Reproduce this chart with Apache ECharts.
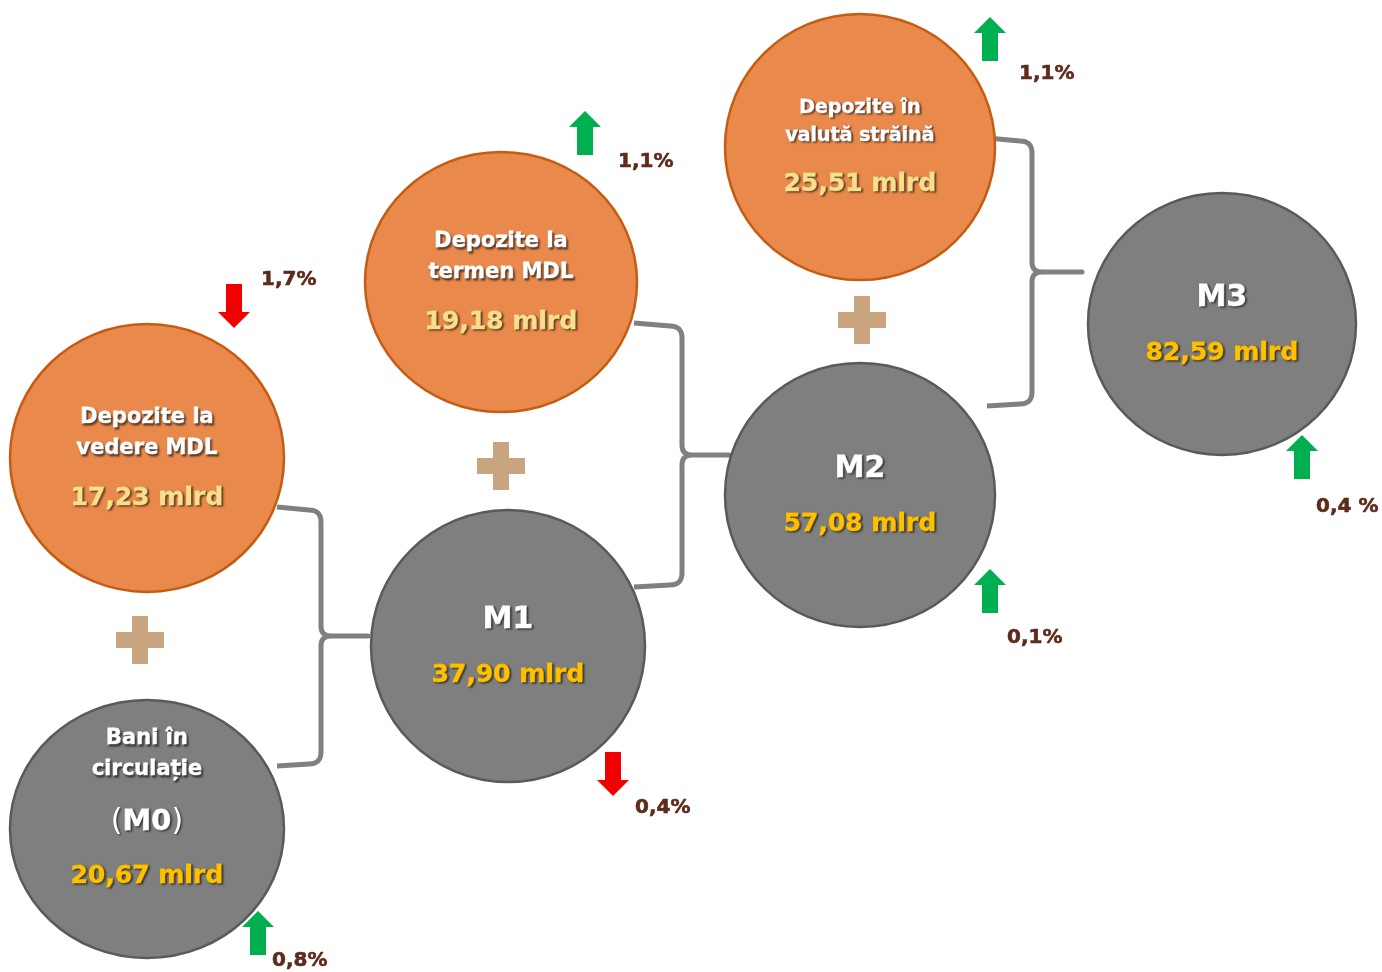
<!DOCTYPE html>
<html><head><meta charset="utf-8">
<script src="https://cdn.jsdelivr.net/npm/echarts@6/dist/echarts.min.js"></script>
<style>html,body{margin:0;padding:0;background:#fff}#c{width:1382px;height:972px}</style>
</head><body><div id="c"></div>
<script>
// ---------- DATA ----------
const nodeLabels = [
  ['Depozite la', 'vedere MDL'],
  ['Bani în', 'circulație', '(M0)'],
  ['Depozite la', 'termen MDL'],
  ['M1'],
  ['Depozite în', 'valută străină'],
  ['M2'],
  ['M3']
];
const nodeKinds = ['component', 'aggregate', 'component', 'aggregate', 'component', 'aggregate', 'aggregate'];
const amounts = [17.23, 20.67, 19.18, 37.90, 25.51, 57.08, 82.59];      // mlrd
const changes = [-1.7, 0.8, 1.1, -0.4, 1.1, 0.1, 0.4];                  // % change
const changeLabels = ['1,7%', '0,8%', '1,1%', '0,4%', '1,1%', '0,1%', '0,4 %'];
const amountUnit = 'mlrd';

// ---------- LAYOUT (positions / sizes, separate from data) ----------
const nodeCenters = [[147, 458], [147, 829], [501, 282], [508, 646], [860, 147], [860, 495], [1222, 324]];
const nodeRadii = [[137, 134], [137, 129], [136, 130], [137, 136], [135, 133], [135, 132], [134, 131]];
const textOffsets = [[-40, -9, 40], [-90, -59, -7, 47], [-40, -9, 40], [-26, 29], [-39, -11, 37], [-26, 29], [-26, 29]];
const titleFontSizes = [21, 21, 21, 30, 19, 30, 30];
const arrowCenters = [[234, 306], [258, 933], [585, 133], [613, 774], [990, 39], [990, 591], [1302, 457]];
const pctAnchors = [[261, 280], [272, 961], [618, 162], [635, 808], [1019, 74], [1007, 638], [1316, 507]];
const plusCenters = [[140, 640], [501, 466], [862, 320]];
// bracket: [armX, spineX, tipX, topY, midY, bottomY]
const brackets = [[277, 321, 368, 510, 636, 764], [634, 682, 729, 326, 455, 585], [987, 1032, 1082, 141, 272, 404]];

// ---------- HELPERS ----------
const FONT = '"DejaVu Sans", Verdana, sans-serif';
const fmtAmount = v => v.toFixed(2).replace('.', ',') + ' ' + amountUnit;
const SHADOW = {textShadowColor: 'rgba(0,0,0,0.55)', textShadowBlur: 2, textShadowOffsetX: 1.5, textShadowOffsetY: 1.5};

function textEl(x, y, text, fill, size, extra) {
  return {
    type: 'text', x: x, y: y, z2: 10,
    style: Object.assign({
      text: text, fill: fill, stroke: fill, lineWidth: 0.8,
      font: 'bold ' + size + 'px ' + FONT,
      align: 'center', verticalAlign: 'middle',
      textAlign: 'center', textVerticalAlign: 'middle'
    }, SHADOW, extra || {})
  };
}

function renderNode(params, api) {
  const i = api.value(2);
  const p = api.coord([api.value(0), api.value(1)]);
  const r = nodeRadii[i];
  const grey = nodeKinds[i] === 'aggregate';
  const children = [{
    type: 'ellipse',
    shape: {cx: p[0], cy: p[1], rx: r[0], ry: r[1]},
    style: {fill: grey ? '#7F7F7F' : '#E98A4C', stroke: grey ? '#5A5A5A' : '#C65B12', lineWidth: 2.5}
  }];
  const labels = nodeLabels[i];
  const offs = textOffsets[i];
  labels.forEach((t, k) => {
    const y = p[1] + offs[k];
    if (/^\(M\d\)$/.test(t)) {
      const inner = t.slice(1, -1);
      children.push({
        type: 'text', x: p[0], y: y, z2: 10,
        style: {
          text: '{p|(}{b|' + inner + '}{p|)}',
          align: 'center', verticalAlign: 'middle', textAlign: 'center', textVerticalAlign: 'middle',
          rich: {
            p: Object.assign({fill: '#FFFFFF', fontSize: 30, fontWeight: 'normal', fontFamily: FONT}, SHADOW),
            b: Object.assign({fill: '#FFFFFF', stroke: '#FFFFFF', lineWidth: 0.8, fontSize: 29, fontWeight: 'bold', fontFamily: FONT}, SHADOW)
          }
        }
      });
    } else {
      const size = /^M\d$/.test(t) ? 30 : titleFontSizes[i];
      children.push(textEl(p[0], y, t, '#FFFFFF', size));
    }
  });
  children.push(textEl(p[0], p[1] + offs[offs.length - 1], fmtAmount(amounts[i]), grey ? '#FFC000' : '#F9DE8C', 25));
  return {type: 'group', children: children};
}

function renderChange(params, api) {
  const i = api.value(2);
  const p = api.coord([api.value(0), api.value(1)]);
  const up = changes[i] >= 0;
  const s = up ? 1 : -1;
  const w = 16, hh = 22, head = 16, shaft = 8;
  const pts = [[0, -hh], [w, -hh + head], [shaft, -hh + head], [shaft, hh], [-shaft, hh], [-shaft, -hh + head], [-w, -hh + head]]
    .map(q => [p[0] + q[0], p[1] + s * q[1]]);
  const a = api.coord(pctAnchors[i]);
  return {type: 'group', children: [
    {type: 'polygon', shape: {points: pts}, style: {fill: up ? '#00B050' : '#F00000'}},
    {type: 'text', x: a[0], y: a[1], style: {text: changeLabels[i], fill: '#5E2A1C', stroke: '#5E2A1C', lineWidth: 0.6,
      font: 'bold 20px ' + FONT,
      align: 'left', verticalAlign: 'middle', textAlign: 'left', textVerticalAlign: 'middle'}}
  ]};
}

function quad(out, p0, c, p1, n) {
  for (let k = 1; k <= n; k++) {
    const t = k / n, u = 1 - t;
    out.push([u * u * p0[0] + 2 * u * t * c[0] + t * t * p1[0], u * u * p0[1] + 2 * u * t * c[1] + t * t * p1[1]]);
  }
}
function renderBracket(params, api) {
  const b = brackets[api.value(2)];
  const P = v => api.coord(v);
  const [x0, xs, xt, yt, ym, yb] = b;
  const r = 12, r2 = 10;
  const pts = [P([x0, yt - 3]), P([xs - r, yt])];
  quad(pts, P([xs - r, yt]), P([xs, yt]), P([xs, yt + r]), 8);
  pts.push(P([xs, ym - r2]));
  quad(pts, P([xs, ym - r2]), P([xs, ym]), P([xs + r2, ym]), 8);
  pts.push(P([xt, ym]));
  pts.push(P([xs + r2, ym]));
  quad(pts, P([xs + r2, ym]), P([xs, ym]), P([xs, ym + r2]), 8);
  pts.push(P([xs, yb - r]));
  quad(pts, P([xs, yb - r]), P([xs, yb]), P([xs - r, yb]), 8);
  pts.push(P([x0, yb + 2]));
  return {type: 'polyline', shape: {points: pts}, style: {stroke: '#808080', lineWidth: 5, fill: null, lineJoin: 'round'}};
}

const chart = echarts.init(document.getElementById('c'), null, {renderer: 'canvas'});
chart.setOption({
  backgroundColor: '#FFFFFF',
  animation: false,
  grid: {left: 0, right: 0, top: 0, bottom: 0},
  xAxis: {type: 'value', min: 0, max: 1382, show: false},
  yAxis: {type: 'value', min: 0, max: 972, inverse: true, show: false},
  tooltip: {show: false},
  series: [
    {type: 'custom', name: 'brackets', renderItem: renderBracket, z: 1,
      data: brackets.map((b, i) => [b[1], b[4], i]), encode: {x: 0, y: 1}},
    {type: 'scatter', name: 'plus', z: 2, silent: true,
      symbol: 'path://M16,0H32V16H48V32H32V48H16V32H0V16H16Z', symbolSize: 48,
      itemStyle: {color: '#C9A57F', opacity: 1},
      data: plusCenters},
    {type: 'custom', name: 'nodes', renderItem: renderNode, z: 3,
      data: nodeCenters.map((c, i) => [c[0], c[1], i]), encode: {x: 0, y: 1}},
    {type: 'custom', name: 'changes', renderItem: renderChange, z: 4,
      data: arrowCenters.map((c, i) => [c[0], c[1], i]), encode: {x: 0, y: 1}}
  ]
});
</script></body></html>
